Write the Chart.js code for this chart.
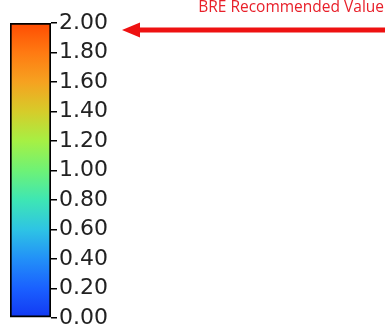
<!DOCTYPE html>
<html>
<head>
<meta charset="utf-8">
<script src="https://cdn.jsdelivr.net/npm/chart.js@4"></script>
<style>
  html, body { margin: 0; padding: 0; background: #fff; }
  #wrap { width: 385px; height: 334px; }
</style>
</head>
<body>
<div id="wrap"><canvas id="colorbar"></canvas></div>
<script>
// colour bar range and ticks
const barRange = [0, 2];
const tickValues = [0, 0.2, 0.4, 0.6, 0.8, 1.0, 1.2, 1.4, 1.6, 1.8, 2.0];
// colour stops (value, colour)
const stopValues = [0, 0.2, 0.4, 0.6, 0.8, 1.0, 1.2, 1.4, 1.6, 1.8, 2.0];
const stopColors = ['#1238f2', '#1a60ff', '#2290f8', '#2ec4e4', '#3ee6b4', '#6ef276',
                    '#a6f044', '#d6cc2a', '#f6a220', '#ff7a12', '#ff4c02'];
// annotation
const markerValue = 2.0;
const markerText = 'BRE Recommended Value';

function barGradient(ctx) {
  const chart = ctx.chart;
  const area = chart.chartArea;
  if (!area || !isFinite(area.top) || !isFinite(area.bottom)) return stopColors[0];
  const g = chart.ctx.createLinearGradient(0, area.bottom, 0, area.top);
  stopValues.forEach((v, i) => g.addColorStop((v - barRange[0]) / (barRange[1] - barRange[0]), stopColors[i]));
  return g;
}

const arrowPlugin = {
  id: 'arrowNote',
  afterDraw(chart) {
    const c = chart.ctx;
    const y = chart.scales.y.getPixelForValue(markerValue) + 7;
    const x0 = 122, x1 = 385;
    c.save();
    c.strokeStyle = '#ee1111';
    c.fillStyle = '#ee1111';
    c.lineWidth = 5;
    c.beginPath();
    c.moveTo(x0 + 14, y);
    c.lineTo(x1, y);
    c.stroke();
    c.beginPath();
    c.moveTo(x0, y);
    c.lineTo(x0 + 18, y - 7.5);
    c.lineTo(x0 + 18, y + 7.5);
    c.closePath();
    c.fill();
    c.font = '15.5px "Open Sans", "Liberation Sans", sans-serif';
    c.textAlign = 'right';
    c.textBaseline = 'middle';
    c.fillStyle = '#e8202a';
    c.fillText(markerText, 384, 8);
    c.restore();
  }
};

new Chart(document.getElementById('colorbar'), {
  type: 'bar',
  data: {
    labels: [''],
    datasets: [{
      data: [barRange],
      backgroundColor: barGradient,
      borderColor: '#000',
      borderWidth: 2,
      borderSkipped: false,
      barPercentage: 1,
      categoryPercentage: 1
    }]
  },
  options: {
    responsive: true,
    maintainAspectRatio: false,
    animation: false,
    layout: { padding: { left: 10, top: 23, bottom: 16, right: 0 } },
    plugins: { legend: { display: false }, tooltip: { enabled: false } },
    scales: {
      x: { display: false },
      y: {
        position: 'right',
        min: barRange[0],
        max: barRange[1],
        afterBuildTicks(scale) { scale.ticks = tickValues.map(v => ({ value: v })); },
        afterFit(scale) { scale.width = 334; },
        border: { display: false },
        grid: { drawOnChartArea: false, color: '#000', lineWidth: 1.5, tickLength: 6 },
        ticks: {
          color: '#222',
          padding: 2,
          font: { family: '"DejaVu Sans"', size: 22 },
          callback: v => Number(v).toFixed(2)
        }
      }
    }
  },
  plugins: [arrowPlugin]
});
</script>
</body>
</html>
